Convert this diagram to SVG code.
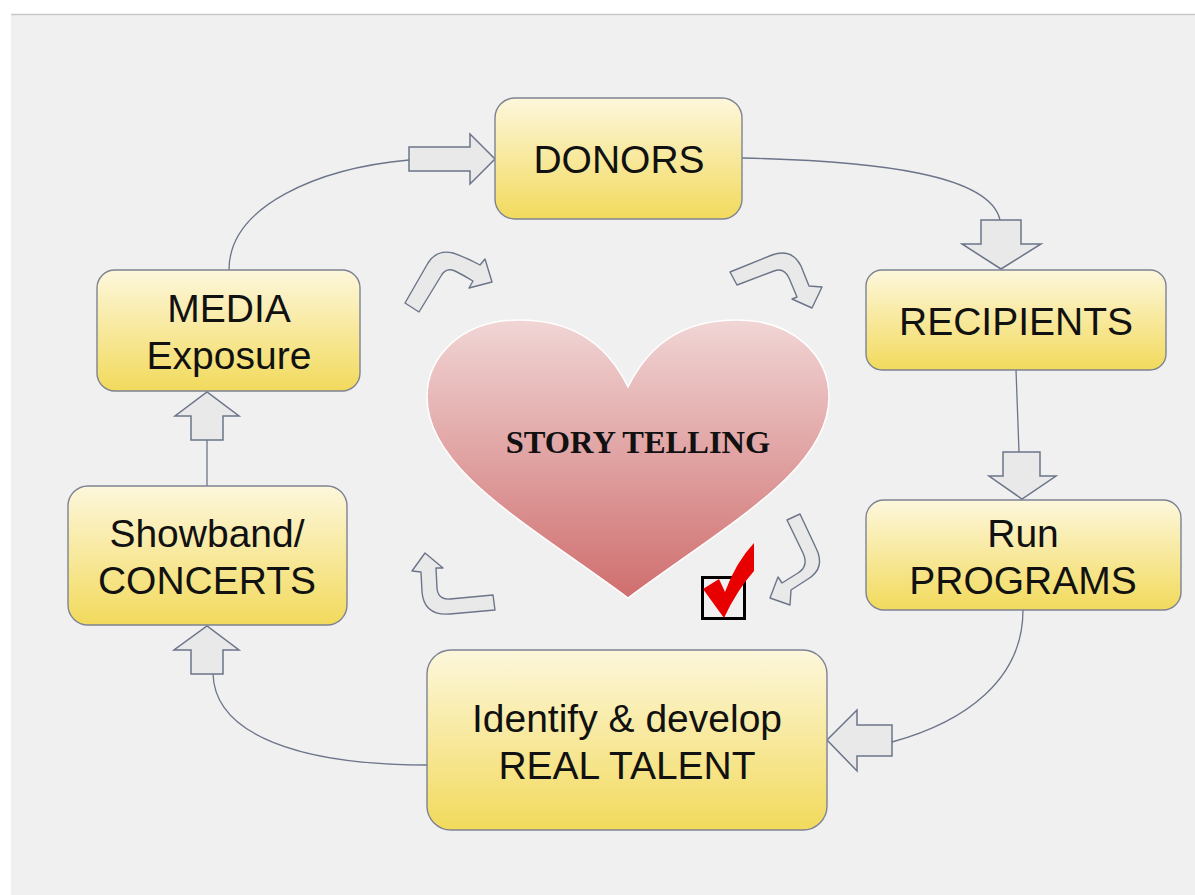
<svg xmlns="http://www.w3.org/2000/svg" width="1195" height="895" viewBox="0 0 1195 895">
  <defs>
    <linearGradient id="boxFill" x1="0" y1="0" x2="0" y2="1">
      <stop offset="0" stop-color="#fdf7dc"/>
      <stop offset="1" stop-color="#f2da5c"/>
    </linearGradient>
    <linearGradient id="heartFill" x1="0" y1="0" x2="0" y2="1">
      <stop offset="0" stop-color="#f1d5d5"/>
      <stop offset="1" stop-color="#d06e6e"/>
    </linearGradient>
  </defs>
  <style>
    .box { fill: url(#boxFill); stroke: #7d8393; stroke-width: 1.4; }
    .lbl { font-family: "Liberation Sans", Arial, sans-serif; font-size: 39px; fill: #111; text-anchor: middle; }
    .wire { fill: none; stroke: #6b7489; stroke-width: 1.3; }
    .blk { fill: #e9e9e9; stroke: #6b7489; stroke-width: 1.5; stroke-linejoin: miter; }
    .turn { fill: #e9e9e9; stroke: #6b7489; stroke-width: 1.4; stroke-linejoin: round; }
  </style>

  <!-- page -->
  <rect x="0" y="0" width="1195" height="895" fill="#ffffff"/>
  <rect x="11" y="15" width="1184" height="880" fill="#f0f0f0"/>
  <line x1="11" y1="14.5" x2="1195" y2="14.5" stroke="#c8c8c8" stroke-width="1.5"/>

  <!-- connectors -->
  <g id="connectors">
    <path class="wire" d="M229,270 C229,205 320,168 409,160"/>
    <polygon class="blk" points="409,147 470,147 470,134 495,159 470,184 470,171 409,171"/>

    <path class="wire" d="M742,158 C880,161 990,175 1000,220"/>
    <polygon class="blk" points="981,220 1021,220 1021,244 1041,244 1001,269 962,244 981,244"/>

    <path class="wire" d="M1016,370 L1019,452"/>
    <polygon class="blk" points="1003,452 1040,452 1040,476 1056,476 1022,499 989,476 1003,476"/>

    <path class="wire" d="M1023,610 C1023,680 965,722 892,742"/>
    <polygon class="blk" points="892,725 892,756 857,756 857,771 827,740 857,710 857,725"/>

    <path class="wire" d="M427,765 C300,765 215,735 213,674"/>
    <polygon class="blk" points="191,674 223,674 223,650 239,650 207,626 174,650 191,650"/>

    <path class="wire" d="M207,486 L207,440"/>
    <polygon class="blk" points="191,440 223,440 223,416 239,416 207,392 175,416 191,416"/>
  </g>

  <!-- story telling heart -->
  <g id="heart">
    <path d="M628,387 C604,338 566,320 519,320 C462,320 427,356 427,397 C427,470 530,525 628,598 C726,525 829,470 829,397 C829,356 794,320 737,320 C690,320 652,338 628,387 Z" fill="url(#heartFill)" stroke="#ffffff" stroke-width="1.5"/>
    <text x="638" y="453" font-family="Liberation Serif, 'Times New Roman', serif" font-weight="bold" font-size="32.5" fill="#111" text-anchor="middle">STORY TELLING</text>
  </g>

  <!-- curved arrows around the heart -->
  <g id="turns">
    <path class="turn" d="M405,303 L428,263 Q437,249 453,253 Q465,257 480,265 L485,259 L492,282 L469,288 L473,281 Q463,275 455,271 Q446,267 441,276 L419,312 Z"/>
    <path class="turn" d="M730,272 L772,255 Q792,248 801,266 L809,286 L822,287 L812,308 L792,299 L797,297 Q792,285 789,278 Q784,267 774,271 L737,285 Z"/>
    <path class="turn" d="M787,520 L800,514 L816,548 Q826,568 808,579 L791,590 L790,605 L770,598 L778,577 L782,583 L798,573 Q809,566 803,553 Z"/>
    <path class="turn" d="M493,595 L450,599 Q438,600 437,588 L436,568 L443,568 L425,553 L412,571 L421,572 L422,592 Q424,616 450,614 L495,610 Z"/>
  </g>

  <!-- checkmark -->
  <g id="check">
    <rect x="702.5" y="577.5" width="42" height="41" fill="none" stroke="#000" stroke-width="3"/>
    <path d="M703,589 L719,579 L725,592 Q736,562 754,543 L754,571 Q737,590 724,618 Z" fill="#e80000"/>
  </g>

  <!-- nodes -->
  <g id="donors">
    <rect class="box" x="495" y="98" width="247" height="121" rx="20"/>
    <text class="lbl" x="619" y="173">DONORS</text>
  </g>
  <g id="recipients">
    <rect class="box" x="866" y="270" width="300" height="100" rx="16"/>
    <text class="lbl" x="1016" y="335">RECIPIENTS</text>
  </g>
  <g id="programs">
    <rect class="box" x="866" y="500" width="315" height="110" rx="18"/>
    <text class="lbl" x="1023" y="547">Run</text>
    <text class="lbl" x="1023" y="594">PROGRAMS</text>
  </g>
  <g id="talent">
    <rect class="box" x="427" y="650" width="400" height="180" rx="24"/>
    <text class="lbl" x="627" y="732">Identify &amp; develop</text>
    <text class="lbl" x="627" y="779">REAL TALENT</text>
  </g>
  <g id="showband">
    <rect class="box" x="68" y="486" width="279" height="139" rx="20"/>
    <text class="lbl" x="207" y="547">Showband/</text>
    <text class="lbl" x="207" y="594">CONCERTS</text>
  </g>
  <g id="media">
    <rect class="box" x="97" y="270" width="263" height="121" rx="18"/>
    <text class="lbl" x="229" y="322">MEDIA</text>
    <text class="lbl" x="229" y="369">Exposure</text>
  </g>
</svg>
